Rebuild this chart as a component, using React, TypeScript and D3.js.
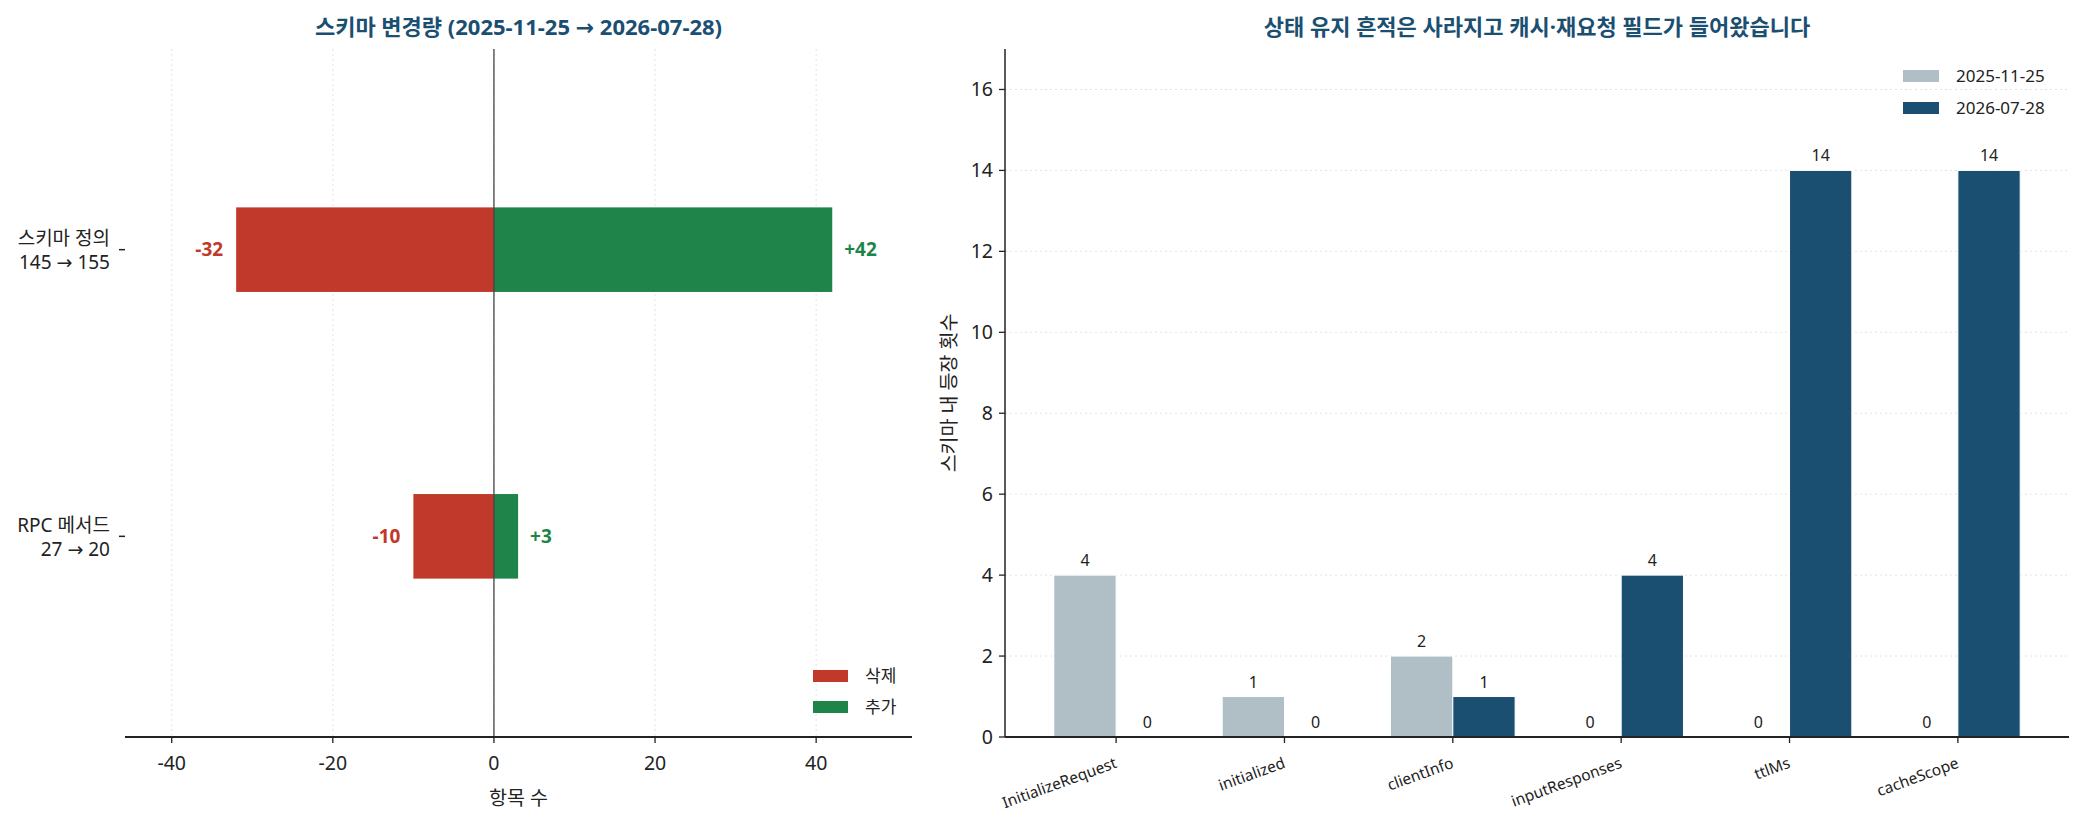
import * as d3 from "d3"

// left panel: schema change counts
const changeLabels = [["스키마 정의", "145 → 155"], ["RPC 메서드", "27 → 20"]]
const removedCounts = [-32, -10]
const addedCounts = [42, 3]
const changeTicks = [-40, -20, 0, 20, 40]

// right panel: field occurrences
const fieldNames = ["InitializeRequest", "initialized", "clientInfo", "inputResponses", "ttlMs", "cacheScope"]
const oldCounts = [4, 1, 2, 0, 0, 0]
const newCounts = [0, 0, 1, 4, 14, 14]
const countTicks = [0, 2, 4, 6, 8, 10, 12, 14, 16]
const seriesNames = ["2025-11-25", "2026-07-28"]

const W = 2084
const H = 825
const FONT = "'Noto Sans', 'DejaVu Sans', 'Noto Sans CJK KR', sans-serif"
const RED = "#c0392b"
const GREEN = "#1e8449"
const LIGHT = "#b0bec5"
const DARK = "#1b4f72"
const GRID = "#e3e3e3"
const INK = "#222"

function LeftChart() {
  const x = d3.scaleLinear().domain([-45.8, 51.9]).range([125, 912])
  const y = d3.scaleLinear().domain([-0.7, 1.7]).range([49, 737])
  const barH = y(0.295) - y(0)
  const bottom = 737

  return (
    <g>
      <text x={(125 + 912) / 2} y={35} textAnchor="middle" fontSize={22} fontWeight="bold" fill={DARK}>
        스키마 변경량 (2025-11-25 → 2026-07-28)
      </text>

      {/* grid */}
      {changeTicks.map((t) => (
        <line key={t} x1={x(t)} x2={x(t)} y1={49} y2={bottom} stroke={GRID} strokeWidth={1} strokeDasharray="2,3" />
      ))}

      {/* bars */}
      {changeLabels.map((_, i) => (
        <g key={i}>
          <rect x={x(removedCounts[i])} y={y(i) - barH / 2} width={x(0) - x(removedCounts[i])} height={barH} fill={RED} />
          <rect x={x(0)} y={y(i) - barH / 2} width={x(addedCounts[i]) - x(0)} height={barH} fill={GREEN} />
          <text x={x(removedCounts[i]) - 13} y={y(i)} dy="0.35em" textAnchor="end" fontSize={19} fontWeight="bold" fill={RED}>
            {removedCounts[i]}
          </text>
          <text x={x(addedCounts[i]) + 12} y={y(i)} dy="0.35em" textAnchor="start" fontSize={19} fontWeight="bold" fill={GREEN}>
            {"+" + addedCounts[i]}
          </text>
        </g>
      ))}

      {/* zero line */}
      <line x1={x(0)} x2={x(0)} y1={49} y2={bottom} stroke="#444" strokeWidth={1.3} />

      {/* y ticks */}
      {changeLabels.map((lbl, i) => (
        <g key={i}>
          <line x1={119} x2={125} y1={y(i)} y2={y(i)} stroke={INK} strokeWidth={1.5} />
          <text x={110} y={y(i) - 11} dy="0.35em" textAnchor="end" fontSize={19} fill={INK}>{lbl[0]}</text>
          <text x={110} y={y(i) + 13} dy="0.35em" textAnchor="end" fontSize={19} fill={INK}>{lbl[1]}</text>
        </g>
      ))}

      {/* x axis */}
      <line x1={125} x2={912} y1={bottom} y2={bottom} stroke={INK} strokeWidth={2} />
      {changeTicks.map((t) => (
        <g key={t}>
          <line x1={x(t)} x2={x(t)} y1={bottom} y2={bottom + 6} stroke={INK} strokeWidth={1.3} />
          <text x={x(t)} y={763} dy="0.35em" textAnchor="middle" fontSize={19.5} fill={INK}>{t}</text>
        </g>
      ))}
      <text x={(125 + 912) / 2} y={798} dy="0.35em" textAnchor="middle" fontSize={19.5} fill={INK}>항목 수</text>

      {/* legend */}
      {[["삭제", RED], ["추가", GREEN]].map(([name, col], i) => (
        <g key={name} transform={`translate(813, ${676 + i * 31})`}>
          <rect x={0} y={-6} width={35} height={12} fill={col} />
          <text x={52} y={0} dy="0.35em" fontSize={17} fill={INK}>{name}</text>
        </g>
      ))}
    </g>
  )
}

function RightChart() {
  const left = 1005
  const right = 2069
  const bottom = 737
  const x = d3.scaleLinear().domain([-0.66, 5.66]).range([left, right])
  const y = d3.scaleLinear().domain([0, 17]).range([bottom, 49])
  const bw = x(0.37) - x(0)

  return (
    <g>
      <text x={(left + right) / 2} y={35} textAnchor="middle" fontSize={22} fontWeight="bold" fill={DARK}>
        상태 유지 흔적은 사라지고 캐시·재요청 필드가 들어왔습니다
      </text>

      {/* grid */}
      {countTicks.slice(1).map((t) => (
        <line key={t} x1={left} x2={right} y1={y(t)} y2={y(t)} stroke={GRID} strokeWidth={1} strokeDasharray="2,3" />
      ))}

      {/* bars */}
      {fieldNames.map((name, i) => (
        <g key={name}>
          <rect x={x(i) - bw} y={y(oldCounts[i])} width={bw} height={bottom - y(oldCounts[i])} fill={LIGHT} stroke="#fff" strokeWidth={1} />
          <rect x={x(i)} y={y(newCounts[i])} width={bw} height={bottom - y(newCounts[i])} fill={DARK} stroke="#fff" strokeWidth={1} />
          <text x={x(i) - bw / 2} y={y(oldCounts[i]) - 9} textAnchor="middle" fontSize={16} fill={INK}>{oldCounts[i]}</text>
          <text x={x(i) + bw / 2} y={y(newCounts[i]) - 9} textAnchor="middle" fontSize={16} fill={INK}>{newCounts[i]}</text>
        </g>
      ))}

      {/* y axis */}
      <line x1={left} x2={left} y1={49} y2={bottom} stroke={INK} strokeWidth={1.5} />
      {countTicks.map((t) => (
        <g key={t}>
          <line x1={left - 6} x2={left} y1={y(t)} y2={y(t)} stroke={INK} strokeWidth={1.3} />
          <text x={left - 12} y={y(t)} dy="0.35em" textAnchor="end" fontSize={19.5} fill={INK}>{t}</text>
        </g>
      ))}
      <text transform={`translate(949, ${(49 + bottom) / 2}) rotate(-90)`} textAnchor="middle" dy="0.35em" fontSize={19.5} fill={INK}>
        스키마 내 등장 횟수
      </text>

      {/* x axis */}
      <line x1={left} x2={right} y1={bottom} y2={bottom} stroke={INK} strokeWidth={2} />
      {fieldNames.map((name, i) => (
        <g key={name}>
          <line x1={x(i)} x2={x(i)} y1={bottom} y2={bottom + 6} stroke={INK} strokeWidth={1.3} />
          <text transform={`translate(${x(i) - 2}, ${bottom + 20}) rotate(-20)`} textAnchor="end" dy="0.7em" fontSize={15.5} fill={INK}>
            {name}
          </text>
        </g>
      ))}

      {/* legend */}
      {seriesNames.map((name, i) => (
        <g key={name} transform={`translate(1903, ${76 + i * 32})`}>
          <rect x={0} y={-6} width={36} height={12} fill={i === 0 ? LIGHT : DARK} />
          <text x={53} y={0} dy="0.35em" fontSize={17} fill={INK}>{name}</text>
        </g>
      ))}
    </g>
  )
}

export default function App() {
  return (
    <div style={{ position: "absolute", left: 0, top: 0, width: W, height: H, background: "#fff" }}>
      <svg width={W} height={H} style={{ display: "block", fontFamily: FONT }}>
        <rect width={W} height={H} fill="#fff" />
        <LeftChart />
        <RightChart />
      </svg>
    </div>
  )
}
